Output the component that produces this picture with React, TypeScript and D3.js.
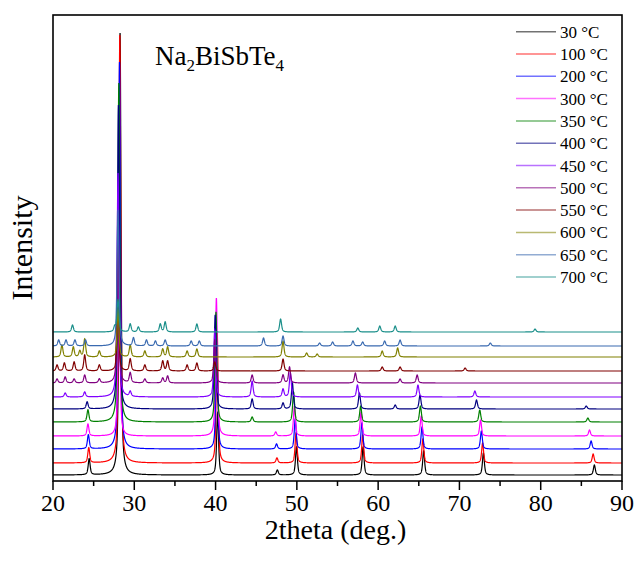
import { scaleLinear, line, range } from "d3";

const temps = [
  "30 °C", "100 °C", "200 °C", "300 °C", "350 °C", "400 °C",
  "450 °C", "500 °C", "550 °C", "600 °C", "650 °C", "700 °C",
];

const colors = [
  "#000000", "#ff0000", "#0000ff", "#ff00ff", "#008000", "#000080",
  "#8000ff", "#800080", "#800000", "#808000", "#3a6ab0", "#1a8f8a",
];

// vertical offset of each pattern (a.u.)
const offsets = [6, 18, 32, 45, 59, 72, 84, 98, 110, 124, 135, 149];

// peaks: [2theta, height]
const peaks: [number, number][][] = [
  [[24.45, 16], [28.25, 442], [40.25, 62], [47.6, 5], [49.95, 28], [58.15, 28], [65.6, 24], [72.95, 22], [86.6, 10]],
  [[24.4, 15], [28.22, 428], [40.2, 130], [47.55, 5], [49.9, 30], [58.1, 28], [65.5, 24], [72.85, 20], [86.45, 9]],
  [[24.35, 14], [28.18, 387], [40.15, 108], [47.5, 5], [49.8, 30], [58.0, 26], [65.4, 22], [72.7, 18], [86.2, 8]],
  [[24.3, 12], [28.12, 181], [40.1, 138], [47.4, 4], [49.7, 30], [57.9, 24], [65.3, 20], [72.6, 16], [86.0, 6]],
  [[24.3, 12], [28.1, 339], [40.05, 110], [44.5, 5], [49.6, 30], [57.85, 16], [65.2, 16], [72.5, 12], [85.8, 4]],
  [[24.2, 7], [28.05, 304], [39.95, 94], [44.5, 10], [48.3, 6], [49.45, 26], [57.7, 16], [62.1, 4], [65.15, 14], [72.1, 9], [85.6, 3]],
  [[21.5, 4], [23.9, 5], [28.0, 224], [29.5, 5], [39.9, 67], [44.5, 16], [48.3, 8], [49.2, 24], [57.45, 12], [64.9, 12], [71.9, 6]],
  [[20.5, 4], [21.5, 6], [22.6, 4], [23.9, 8], [25.7, 4], [28.0, 138], [29.5, 10], [31.3, 4], [33.5, 5], [34.1, 7], [39.9, 43], [44.5, 8], [48.3, 8], [49.1, 16], [57.2, 10], [62.7, 4], [64.8, 8]],
  [[20.5, 6], [21.4, 8], [22.6, 9], [23.9, 16], [25.7, 6], [28.0, 71], [29.5, 12], [31.3, 6], [33.5, 10], [34.1, 10], [36.5, 6], [37.7, 8], [39.9, 9], [48.3, 12], [60.5, 4], [62.7, 4], [70.7, 3]],
  [[21.1, 12], [22.5, 10], [23.3, 6], [23.9, 18], [25.7, 6], [28.0, 47], [29.5, 12], [31.3, 6], [33.5, 8], [34.1, 10], [36.5, 6], [37.7, 8], [48.3, 16], [51.2, 4], [52.5, 3], [60.5, 6], [62.4, 9]],
  [[20.7, 6], [21.6, 6], [22.7, 6], [24.0, 6], [28.0, 136], [29.9, 8], [31.5, 6], [32.6, 5], [33.8, 6], [37.0, 5], [38.0, 5], [45.9, 8], [48.3, 10], [52.8, 3], [54.4, 4], [56.9, 5], [58.1, 4], [60.8, 5], [62.7, 6], [73.8, 3]],
  [[22.4, 7], [27.6, 5], [28.0, 32], [29.5, 8], [30.5, 5], [33.2, 8], [33.8, 10], [37.7, 8], [48.0, 13], [57.5, 4], [60.2, 6], [62.1, 6], [79.3, 3]],
];

const xTicks = [20, 30, 40, 50, 60, 70, 80, 90];
const xMinor = [25, 35, 45, 55, 65, 75, 85];

const W = 638;
const H = 565;
const M = { left: 53, right: 16, top: 15, bottom: 84 };
const FONT = "'Liberation Serif', 'Times New Roman', serif";

function profile(x: number, list: [number, number][]) {
  let s = 0;
  const w = 0.14; // half width
  for (const [c, h] of list) {
    const d = (x - c) / w;
    const lor = 1 / (1 + d * d);
    const gau = Math.exp(-Math.LN2 * d * d);
    s += h * (0.6 * lor + 0.4 * gau);
  }
  return s;
}

export default function App() {
  const innerW = W - M.left - M.right;
  const innerH = H - M.top - M.bottom;

  const x = scaleLinear().domain([20, 90]).range([0, innerW]);
  const y = scaleLinear().domain([0, 466]).range([innerH, 0]);

  const grid = range(20, 90.0001, 0.01);

  const curves = peaks.map((list, k) => {
    const gen = line<number>()
      .x((d) => x(d))
      .y((d) => y(offsets[k] + profile(d, list)));
    return gen(grid) || "";
  });

  return (
    <svg
      width={W}
      height={H}
      style={{ position: "absolute", left: 0, top: 0, background: "#fff" }}
      fontFamily={FONT}
    >
      <g transform={`translate(${M.left},${M.top})`}>
        {curves.map((d, k) => (
          <path key={k} d={d} fill="none" stroke={colors[k]} strokeWidth={1.2} />
        ))}

        <rect x={0} y={0} width={innerW} height={innerH} fill="none" stroke="#000" strokeWidth={1.6} />

        {xTicks.map((t) => (
          <g key={t} transform={`translate(${x(t)},${innerH})`}>
            <line y1={0} y2={9} stroke="#000" strokeWidth={1.5} />
            <text y={30} textAnchor="middle" fontSize={24} fill="#000">{t}</text>
          </g>
        ))}
        {xMinor.map((t) => (
          <line key={t} x1={x(t)} x2={x(t)} y1={innerH} y2={innerH + 5} stroke="#000" strokeWidth={1.5} />
        ))}

        <text x={innerW / 2 - 2} y={innerH + 58} textAnchor="middle" fontSize={28} fill="#000">
          2theta (deg.)
        </text>
        <text
          transform={`translate(-21,${innerH / 2}) rotate(-90)`}
          textAnchor="middle"
          fontSize={30}
          fill="#000"
        >
          Intensity
        </text>

        <text x={102} y={50} fontSize={27} fill="#000">
          Na<tspan fontSize={17} dy={6}>2</tspan>
          <tspan dy={-6}>BiSbTe</tspan>
          <tspan fontSize={17} dy={6}>4</tspan>
        </text>

        {temps.map((t, k) => {
          const ly = 16.7 + k * 22.3;
          return (
            <g key={t}>
              <line x1={463} x2={503} y1={ly} y2={ly} stroke={colors[k]} strokeWidth={1.5} opacity={0.55} />
              <text x={507} y={ly + 6} fontSize={17} fill="#000">{t}</text>
            </g>
          );
        })}
      </g>
    </svg>
  );
}
